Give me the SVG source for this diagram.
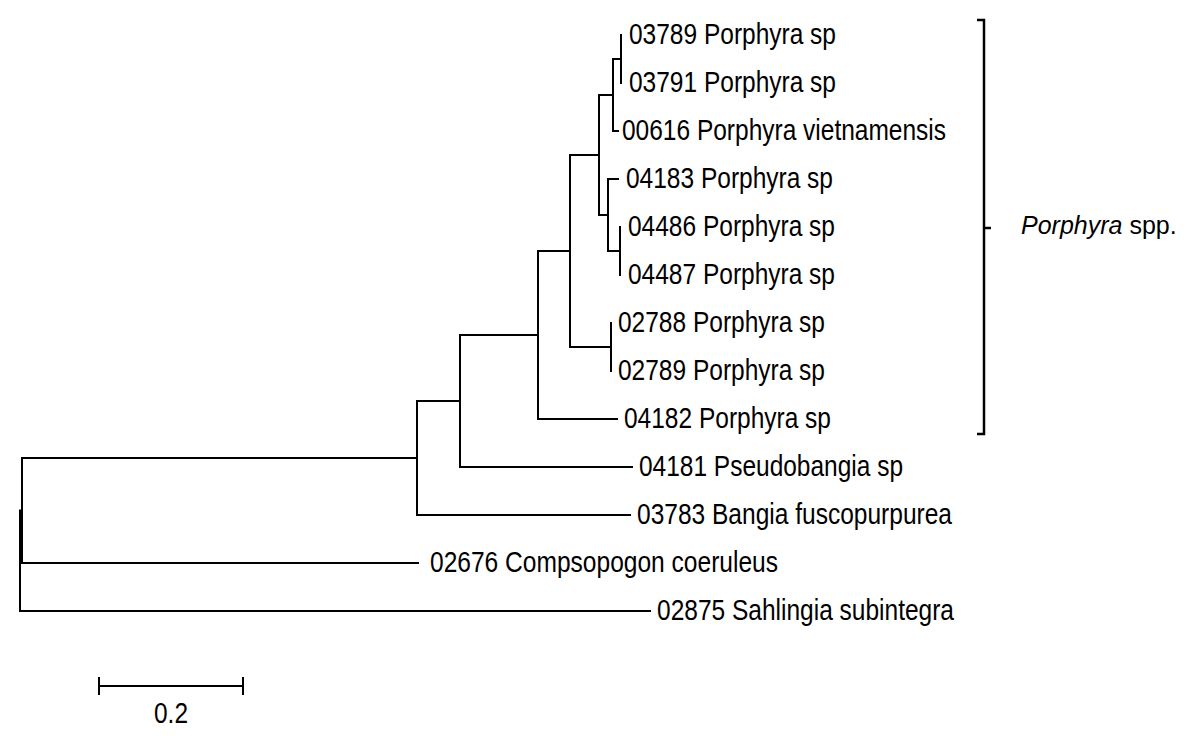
<svg xmlns="http://www.w3.org/2000/svg" width="1200" height="745" viewBox="0 0 1200 745">
<style>
.e{fill:none;stroke:#000;stroke-width:2;stroke-linejoin:miter;stroke-linecap:square}
.t{font-family:"Liberation Sans",Arial,sans-serif;font-size:29px;fill:#000}
.s{font-family:"Liberation Sans",Arial,sans-serif;font-size:25px;fill:#000}
</style>
<rect width="1200" height="745" fill="#fff"/>
<g id="connectors">
<path class="e" d="M20,560.75 V510.5 H22"/>
<path class="e" d="M20,560.75 V611 H650"/>
<path class="e" d="M22,510.5 V458 H417"/>
<path class="e" d="M22,510.5 V563 H418"/>
<path class="e" d="M417,458 V401 H460"/>
<path class="e" d="M417,458 V515 H630"/>
<path class="e" d="M460,401 V335 H538"/>
<path class="e" d="M460,401 V467 H632"/>
<path class="e" d="M538,335 V251 H570"/>
<path class="e" d="M538,335 V419 H617"/>
<path class="e" d="M570,251 V155 H599"/>
<path class="e" d="M570,251 V347 H611"/>
<path class="e" d="M611,347 V323"/>
<path class="e" d="M611,347 V371"/>
<path class="e" d="M599,155 V95 H613"/>
<path class="e" d="M599,155 V215 H608"/>
<path class="e" d="M613,95 V59 H621"/>
<path class="e" d="M613,95 V131 H618"/>
<path class="e" d="M621,59 V35"/>
<path class="e" d="M621,59 V83"/>
<path class="e" d="M608,215 V179 H618"/>
<path class="e" d="M608,215 V251 H620"/>
<path class="e" d="M620,251 V227"/>
<path class="e" d="M620,251 V275"/>
</g>
<g id="leaf-03789"><text class="t" x="629" y="44" textLength="207" lengthAdjust="spacingAndGlyphs">03789 Porphyra sp</text></g>
<g id="leaf-03791"><text class="t" x="629" y="92" textLength="207" lengthAdjust="spacingAndGlyphs">03791 Porphyra sp</text></g>
<g id="leaf-00616"><text class="t" x="622" y="140" textLength="324" lengthAdjust="spacingAndGlyphs">00616 Porphyra vietnamensis</text></g>
<g id="leaf-04183"><text class="t" x="626" y="188" textLength="207" lengthAdjust="spacingAndGlyphs">04183 Porphyra sp</text></g>
<g id="leaf-04486"><text class="t" x="628" y="236" textLength="207" lengthAdjust="spacingAndGlyphs">04486 Porphyra sp</text></g>
<g id="leaf-04487"><text class="t" x="628" y="284" textLength="207" lengthAdjust="spacingAndGlyphs">04487 Porphyra sp</text></g>
<g id="leaf-02788"><text class="t" x="618" y="332" textLength="207" lengthAdjust="spacingAndGlyphs">02788 Porphyra sp</text></g>
<g id="leaf-02789"><text class="t" x="618" y="380" textLength="207" lengthAdjust="spacingAndGlyphs">02789 Porphyra sp</text></g>
<g id="leaf-04182"><text class="t" x="624" y="428" textLength="207" lengthAdjust="spacingAndGlyphs">04182 Porphyra sp</text></g>
<g id="leaf-04181"><text class="t" x="639" y="476" textLength="264" lengthAdjust="spacingAndGlyphs">04181 Pseudobangia sp</text></g>
<g id="leaf-03783"><text class="t" x="637" y="524" textLength="315" lengthAdjust="spacingAndGlyphs">03783 Bangia fuscopurpurea</text></g>
<g id="leaf-02676"><text class="t" x="430" y="572" textLength="348" lengthAdjust="spacingAndGlyphs">02676 Compsopogon coeruleus</text></g>
<g id="leaf-02875"><text class="t" x="657" y="620" textLength="297" lengthAdjust="spacingAndGlyphs">02875 Sahlingia subintegra</text></g>
<g id="clade-bracket">
<path fill="none" stroke="#000" stroke-width="2.5" d="M977,20 H984 V434 H977 M984,228 H991"/>
<text class="s" x="1021" y="234"><tspan font-style="italic">Porphyra</tspan> spp.</text>
</g>
<g id="scale-bar">
<path fill="none" stroke="#000" stroke-width="2" d="M99,686 H243 M99,677 V695 M243,677 V695"/>
<text class="t" x="171" y="723" text-anchor="middle" textLength="34" lengthAdjust="spacingAndGlyphs">0.2</text>
</g>
</svg>
